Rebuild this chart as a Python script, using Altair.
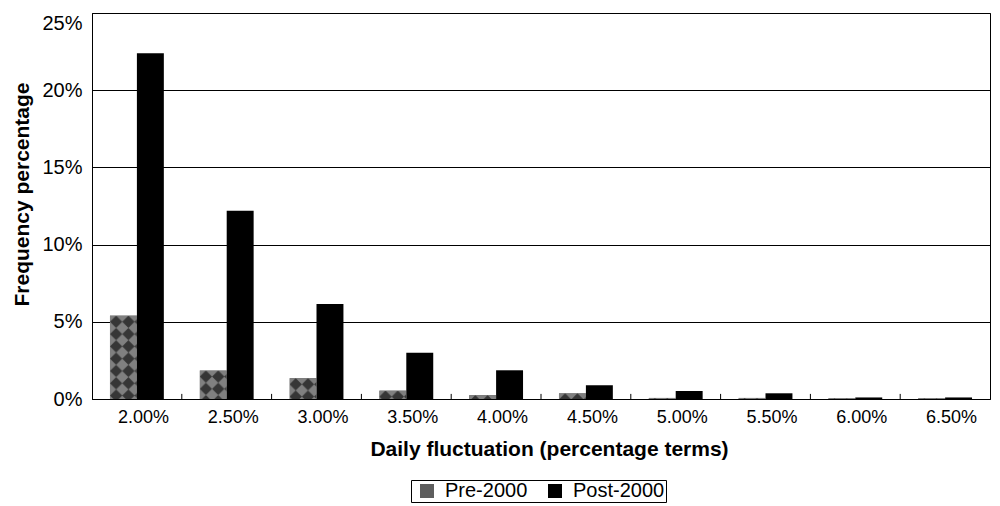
import base64
import altair as alt
import pandas as pd

categories = ["2.00%", "2.50%", "3.00%", "3.50%", "4.00%", "4.50%", "5.00%", "5.50%", "6.00%", "6.50%"]
pre_2000 = [5.4, 1.85, 1.35, 0.55, 0.25, 0.37, 0.07, 0.07, 0.05, 0.05]
post_2000 = [22.4, 12.2, 6.15, 2.99, 1.86, 0.89, 0.52, 0.37, 0.1, 0.1]
series_names = ["Pre-2000", "Post-2000"]
y_ticks = [0, 5, 10, 15, 20, 25]

rows = []
for i, c in enumerate(categories):
    rows.append({"i": i, "cat": c, "series": "Pre-2000", "value": pre_2000[i]})
    rows.append({"i": i, "cat": c, "series": "Post-2000", "value": post_2000[i]})
df = pd.DataFrame(rows)
bounds = pd.DataFrame({"b": list(range(1, len(categories)))})

FONT = "Liberation Sans"

pattern_svg = (
    "<svg xmlns='http://www.w3.org/2000/svg' width='100%' height='100%'>"
    "<defs><pattern id='p' width='12.3' height='12.3' patternUnits='userSpaceOnUse'>"
    "<rect width='12.3' height='12.3' fill='#808080'/>"
    "<path d='M6.15 0 L12.3 6.15 L6.15 12.3 L0 6.15 Z' fill='#363636'/>"
    "</pattern></defs><rect width='100%' height='100%' fill='url(#p)'/></svg>"
)
pattern_uri = "data:image/svg+xml;base64," + base64.b64encode(pattern_svg.encode()).decode()

label_js = "[" + ",".join("'" + c + "'" for c in categories) + "]"

x_scale = alt.Scale(domain=[0, len(categories)], nice=False, zero=False)
y_scale = alt.Scale(domain=[0, 25], nice=False)

base = alt.Chart(df).transform_calculate(
    x0="datum.i + (datum.series == 'Pre-2000' ? 0.2 : 0.5)",
    x1="datum.i + (datum.series == 'Pre-2000' ? 0.5 : 0.8)",
)

bars = base.mark_bar(strokeWidth=0).encode(
    x=alt.X(
        "x0:Q",
        scale=x_scale,
        axis=alt.Axis(
            values=[k + 0.5 for k in range(len(categories))],
            labelExpr=label_js + "[floor(datum.value)]",
            ticks=False,
            grid=False,
            labelFontSize=18,
            labelFont=FONT,
            labelColor="black",
            labelPadding=9,
            labelOffset=6,
            domainColor="black",
            title="Daily fluctuation (percentage terms)",
            titleFontSize=21,
            titleFont=FONT,
            titleFontWeight="bold",
            titleColor="black",
            titlePadding=12,
            titleX=457,
        ),
    ),
    x2="x1:Q",
    y=alt.Y(
        "value:Q",
        scale=y_scale,
        axis=alt.Axis(
            values=y_ticks,
            labelExpr="datum.value + '%'",
            labelBaseline={"condition": {"test": "datum.value == 25", "value": "top"}, "value": "middle"},
            ticks=False,
            grid=True,
            gridColor="black",
            gridOpacity=1,
            gridWidth=1,
            domainColor="black",
            labelFontSize=20,
            labelFont=FONT,
            labelColor="black",
            labelPadding=10,
            title="Frequency percentage",
            titleFontSize=21,
            titleFont=FONT,
            titleFontWeight="bold",
            titleColor="black",
            titleX=-60,
            titleY=181,
            titleBaseline="bottom",
        ),
    ),
    y2=alt.Y2(datum=0),
    color=alt.Color(
        "series:N",
        scale=alt.Scale(domain=series_names, range=["#5e5e5e", "#000000"]),
        sort=series_names,
        title=None,
        legend=alt.Legend(
            orient="none",
            legendX=319,
            legendY=467,
            direction="horizontal",
            symbolType="square",
            symbolSize=196,
            symbolStrokeWidth=0,
            symbolOffset=5,
            labelFontSize=20,
            labelFont=FONT,
            labelColor="black",
            labelOffset=8,
            columnPadding=12,
            padding=1,
            strokeColor="black",
        ),
    ),
)

pattern = base.transform_filter("datum.series == 'Pre-2000'").mark_image(aspect=False).encode(
    x=alt.X("x0:Q", scale=x_scale),
    x2="x1:Q",
    y=alt.Y("value:Q", scale=y_scale),
    y2=alt.Y2(datum=0),
    url=alt.value(pattern_uri),
)

ticks = alt.Chart(bounds).mark_rule(color="black", strokeWidth=1).encode(
    x=alt.X("b:Q", scale=x_scale),
    y=alt.Y(datum=0, scale=y_scale),
    y2=alt.Y2(datum=0.33),
)

chart = alt.layer(bars, pattern, ticks).properties(
    width=898,
    height=386,
    autosize=alt.AutoSizeParams(type="none"),
    padding={"left": 84, "top": 5, "right": 2, "bottom": 107},
    background="white",
).configure_view(stroke="black", strokeWidth=1)

chart.save("out.html", embed_options={"renderer": "svg", "actions": False})
